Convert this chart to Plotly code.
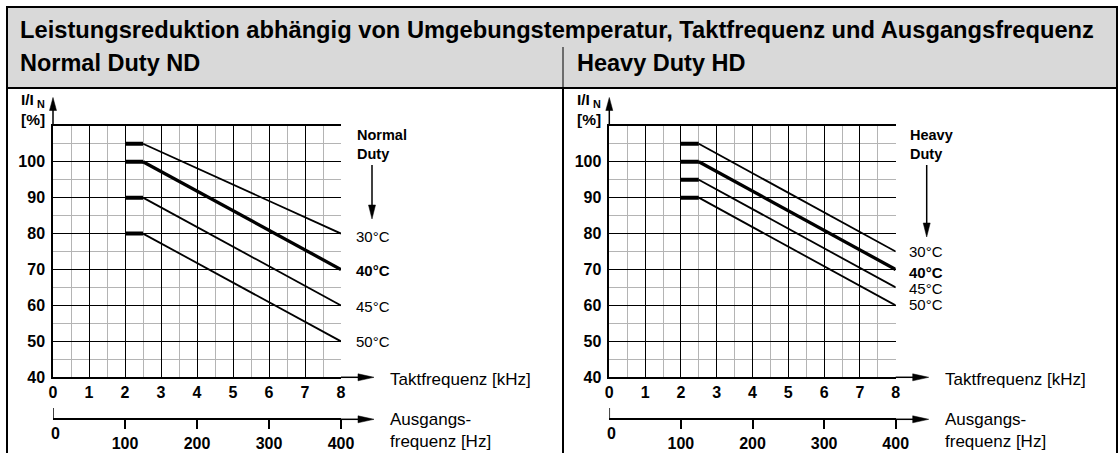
import plotly.graph_objects as go

W, H = 1120, 453
FONT = "Liberation Sans, Arial, Helvetica, sans-serif"
GRID_MINOR = "#b4b4b4"
BAR_FILL = "#d9d9d9"

# ---------------- data ----------------
title = "Leistungsreduktion abhängig von Umgebungstemperatur, Taktfrequenz und Ausgangsfrequenz"
panel_titles = ["Normal Duty ND", "Heavy Duty HD"]
duty_labels = ["Normal<br>Duty", "Heavy<br>Duty"]
temperatures = ["30°C", "40°C", "45°C", "50°C"]
flat_khz = [2.0, 2.5]          # plateau of every curve (kHz)
end_khz = 8.0
nd_plateau = [105, 100, 90, 80]
nd_at_8khz = [80, 70, 60, 50]
hd_plateau = [105, 100, 95, 90]
hd_at_8khz = [75, 70, 65, 60]
khz_ticks = [0, 1, 2, 3, 4, 5, 6, 7, 8]
khz_minor = [0.5, 1.5, 2.5, 3.5, 4.5, 5.5, 6.5, 7.5]
pct_ticks = [40, 50, 60, 70, 80, 90, 100]
pct_minor = [45, 55, 65, 75, 85, 95, 105]
hz_ticks = [100, 200, 300, 400]
hz_range = [0, 400]
khz_range = [0, 8]
pct_range = [40, 110]

# ---------------- geometry (pixels) ----------------
Y_TOP, Y_BOT, HZ_Y = 125.8, 377.3, 419.3
panels = [
    dict(x0=53.0, x1=341.0, label_x=355, temp_y=[236, 270, 306, 341],
         duty_arrow=(165, 219), title_x=18,
         plateau=nd_plateau, end=nd_at_8khz, xa="x", ya="y", hz="x3"),
    dict(x0=609.3, x1=895.7, label_x=908, temp_y=[251, 272, 288, 304],
         duty_arrow=(165, 237), title_x=575,
         plateau=hd_plateau, end=hd_at_8khz, xa="x2", ya="y2", hz="x4"),
]


def px(x):
    return x / W


def py(y):
    return 1 - y / H


fig = go.Figure()
shapes = []
annotations = []


def arrow(x0, y0, x1, y1, head=15.0, hw=3.5, width=1.5):
    dx, dy = x1 - x0, y1 - y0
    L = (dx * dx + dy * dy) ** 0.5
    ux, uy = dx / L, dy / L
    bx, by = x1 - ux * head, y1 - uy * head
    nx, ny = -uy, ux
    shapes.append(dict(type="line", xref="paper", yref="paper",
                       x0=px(x0), y0=py(y0), x1=px(bx + ux), y1=py(by + uy),
                       line=dict(color="black", width=width)))
    pts = [(x1, y1), (bx + nx * hw, by + ny * hw), (bx - nx * hw, by - ny * hw)]
    path = "M " + " L ".join(f"{px(a):.5f},{py(b):.5f}" for a, b in pts) + " Z"
    shapes.append(dict(type="path", xref="paper", yref="paper", path=path,
                       fillcolor="black", line=dict(color="black", width=0.5)))


bold_tick = dict(family=FONT, size=16, color="black", weight="bold")
layout_axes = {}

for i, p in enumerate(panels):
    n = "" if i == 0 else "2"
    xa, ya, hz = p["xa"], p["ya"], p["hz"]
    # curves
    for j, t in enumerate(temperatures):
        fig.add_trace(go.Scatter(
            x=flat_khz, y=[p["plateau"][j], p["plateau"][j]], mode="lines",
            line=dict(color="black", width=4), xaxis=xa, yaxis=ya,
            showlegend=False, hoverinfo="skip"))
        fig.add_trace(go.Scatter(
            x=[flat_khz[1], end_khz], y=[p["plateau"][j], p["end"][j]], mode="lines",
            line=dict(color="black", width=3.3 if t == "40°C" else 1.8),
            xaxis=xa, yaxis=ya, name=t, showlegend=False, hoverinfo="skip"))
    # empty trace to create the Hz axis
    fig.add_trace(go.Scatter(x=[], y=[], xaxis=hz, yaxis=ya, showlegend=False,
                             hoverinfo="skip"))

    dom = [px(p["x0"]), px(p["x1"])]
    layout_axes["xaxis" + n] = dict(
        domain=dom, range=khz_range, anchor=ya, tickvals=khz_ticks,
        ticktext=[str(v) for v in khz_ticks], tickfont=bold_tick,
        showgrid=True, gridcolor="black", gridwidth=1,
        minor=dict(tickvals=khz_minor, showgrid=True, gridcolor=GRID_MINOR, gridwidth=1),
        showline=True, mirror=True, linecolor="black", linewidth=1.5, zeroline=False,
        ticks="", ticklabelstandoff=0, automargin=False, fixedrange=True)
    layout_axes["yaxis" + n] = dict(
        domain=[py(Y_BOT), py(Y_TOP)], range=pct_range, anchor=xa,
        tickvals=pct_ticks, ticktext=[str(v) for v in pct_ticks], tickfont=bold_tick,
        showgrid=True, gridcolor="black", gridwidth=1,
        minor=dict(tickvals=pct_minor, showgrid=True, gridcolor=GRID_MINOR, gridwidth=1),
        showline=True, linecolor="black", linewidth=1.5, zeroline=False,
        ticks="", ticklabelstandoff=3, automargin=False, fixedrange=True)
    layout_axes["xaxis" + hz[1:]] = dict(
        overlaying=xa, anchor="free", position=py(HZ_Y), side="bottom",
        range=hz_range, tickvals=hz_ticks, ticktext=[str(v) for v in hz_ticks],
        tickfont=bold_tick, ticks="outside", ticklen=9, tickwidth=1.5,
        tickcolor="black", showline=True, linecolor="black", linewidth=1.5,
        showgrid=False, zeroline=False, ticklabelstandoff=1, automargin=False,
        fixedrange=True)

    # Hz axis: upward tick at 0 and its label
    shapes.append(dict(type="line", xref=hz, yref="paper", x0=0, x1=0,
                       y0=py(HZ_Y), y1=py(408), line=dict(color="black", width=1.5)))
    annotations.append(dict(xref=hz, yref="paper", x=0, y=py(433), text="<b>0</b>",
                            showarrow=False, xanchor="center", yanchor="middle", xshift=2,
                            font=dict(family=FONT, size=16, color="black")))

    # axis arrows
    arrow(p["x0"], Y_TOP, p["x0"], 97.5, head=13)
    arrow(p["x1"], Y_BOT, p["x1"] + 33, Y_BOT, head=16)
    arrow(p["x1"], HZ_Y, p["x1"] + 33, HZ_Y, head=16)
    # duty arrow
    ax = p["x1"] + 31
    arrow(ax, p["duty_arrow"][0], ax, p["duty_arrow"][1], head=14)

    # y label (I/I_N and [%])
    annotations.append(dict(xref="paper", yref="paper", x=px(p["x0"] - 34), y=py(109),
                            text="<b>I/I<sub> N</sub></b><br><b>[%]</b>", showarrow=False,
                            xanchor="left", yanchor="middle", align="left",
                            font=dict(family=FONT, size=15.5, color="black")))
    # duty label
    annotations.append(dict(xref="paper", yref="paper", x=px(p["label_x"]), y=py(144),
                            text="<b>" + duty_labels[i].replace("<br>", "</b><br><b>") + "</b>",
                            showarrow=False, xanchor="left", yanchor="middle", align="left",
                            font=dict(family=FONT, size=14.5, color="black")))
    # temperature labels
    for j, t in enumerate(temperatures):
        txt = f"<b>{t}</b>" if t == "40°C" else t
        annotations.append(dict(xref="paper", yref="paper", x=px(p["label_x"] - 1),
                                y=py(p["temp_y"][j]), text=txt, showarrow=False,
                                xanchor="left", yanchor="middle",
                                font=dict(family=FONT, size=15, color="black")))
    # axis names
    annotations.append(dict(xref="paper", yref="paper", x=px(p["x1"] + 47), y=py(379),
                            text="Taktfrequenz [kHz]", showarrow=False, xanchor="left",
                            yanchor="middle", font=dict(family=FONT, size=17, color="black")))
    annotations.append(dict(xref="paper", yref="paper", x=px(p["x1"] + 47), y=py(430),
                            text="Ausgangs-<br>frequenz [Hz]", showarrow=False,
                            xanchor="left", yanchor="middle", align="left",
                            font=dict(family=FONT, size=17, color="black")))
    # panel title
    annotations.append(dict(xref="paper", yref="paper", x=px(p["title_x"]), y=py(63),
                            text=f"<b>{panel_titles[i]}</b>", showarrow=False,
                            xanchor="left", yanchor="middle",
                            font=dict(family=FONT, size=23.5, color="black")))

# main title
annotations.append(dict(xref="paper", yref="paper", x=px(18), y=py(30),
                        text=f"<b>{title}</b>", showarrow=False, xanchor="left",
                        yanchor="middle", font=dict(family=FONT, size=23.7, color="black")))

# frame
frame = [
    dict(type="rect", xref="paper", yref="paper", x0=px(7), x1=px(1117), y0=py(88), y1=py(7),
         fillcolor=BAR_FILL, line=dict(color="black", width=2), layer="below"),
    dict(type="line", xref="paper", yref="paper", x0=px(7), x1=px(7), y0=py(88), y1=0,
         line=dict(color="black", width=2)),
    dict(type="line", xref="paper", yref="paper", x0=px(1117), x1=px(1117), y0=py(88), y1=0,
         line=dict(color="black", width=2)),
    dict(type="line", xref="paper", yref="paper", x0=px(563), x1=px(563), y0=py(47), y1=py(88),
         line=dict(color="black", width=1)),
    dict(type="line", xref="paper", yref="paper", x0=px(563), x1=px(563), y0=py(88), y1=0,
         line=dict(color="black", width=2)),
]

fig.update_layout(
    width=W, height=H, autosize=False, margin=dict(l=0, r=0, t=0, b=0, pad=0),
    paper_bgcolor="white", plot_bgcolor="white",
    font=dict(family=FONT, color="black"),
    shapes=frame + shapes, annotations=annotations, showlegend=False,
    **layout_axes,
)

fig.write_html(
    "out.html",
    config={"displayModeBar": False},
    post_script="document.body.style.margin='0';document.body.style.padding='0';",
)
